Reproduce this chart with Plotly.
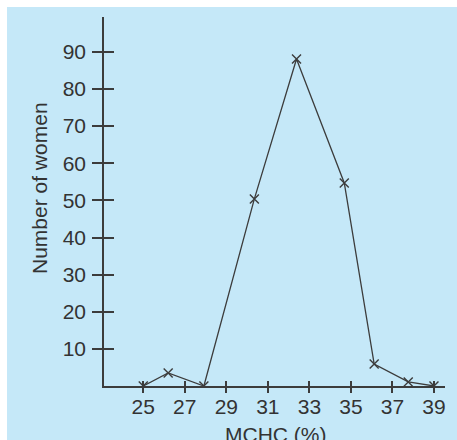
import plotly.graph_objects as go

mchc = [25, 26.2, 27.92, 30.35, 32.38, 34.68, 36.12, 37.76, 39]
women = [0, 3.5, 0, 50.4, 88.1, 54.7, 5.9, 1.1, 0]
x_ticks = [25, 27, 29, 31, 33, 35, 37, 39]
y_ticks = [10, 20, 30, 40, 50, 60, 70, 80, 90]
x_title = "MCHC (%)"
y_title = "Number of women"

W, H = 457, 440
L, R, T, B = 104, 12, 17, 54
pw, ph = W - L - R, H - T - B
xr = [23.11, 39.53]
yr = [0, 99.4]
ink = "#3c3c3c"
txt = "#333333"
font = "Liberation Sans, Arial, sans-serif"

fig = go.Figure()
fig.add_trace(go.Scatter(
    x=mchc, y=women, mode="lines+markers",
    line=dict(color=ink, width=1.3),
    marker=dict(symbol="x-thin", size=9, line=dict(color=ink, width=1.4)),
    showlegend=False, hoverinfo="skip"))
fig.add_trace(go.Scatter(x=[xr[0]], y=[yr[0]], xaxis="x2", yaxis="y2",
                         mode="markers", marker=dict(opacity=0),
                         showlegend=False, hoverinfo="skip"))

common = dict(showgrid=False, zeroline=False, fixedrange=True)
fig.update_layout(
    width=W, height=H,
    margin=dict(l=L, r=R, t=T, b=B, autoexpand=False),
    paper_bgcolor="white", plot_bgcolor="rgba(0,0,0,0)",
    font=dict(family=font, color=txt, size=21),
    xaxis=dict(range=xr, tickvals=x_ticks, ticks="outside", ticklen=5,
               tickwidth=1.5, tickcolor=ink, showline=True, linecolor=ink,
               linewidth=1.5, tickfont=dict(size=21, color=txt),
               ticklabelstandoff=-4, automargin=False, **common),
    yaxis=dict(range=yr, tickvals=y_ticks, ticks="outside", ticklen=10,
               tickwidth=1.5, tickcolor=ink, showline=True, linecolor=ink,
               linewidth=1.5, tickfont=dict(size=21, color=txt),
               ticklabelstandoff=2, automargin=False, **common),
    xaxis2=dict(range=xr, tickvals=x_ticks, ticks="inside", ticklen=5,
                tickwidth=1.5, tickcolor=ink, showticklabels=False,
                overlaying="x", anchor="y2", side="bottom", **common),
    yaxis2=dict(range=yr, tickvals=y_ticks, ticks="inside", ticklen=10,
                tickwidth=1.5, tickcolor=ink, showticklabels=False,
                overlaying="y", anchor="x2", side="left", **common),
    shapes=[dict(type="rect", xref="paper", yref="paper",
                 x0=(7 - L) / pw, x1=(W + 5 - L) / pw,
                 y0=-(B + 5) / ph, y1=1 + (T - 7) / ph,
                 fillcolor="#c5e8f8", line=dict(width=0), layer="below")],
    annotations=[
        dict(text=y_title, textangle=-90, xref="paper", yref="paper",
             x=(39 - L) / pw, y=1 - (188 - T) / ph,
             showarrow=False, font=dict(size=21, color=txt),
             xanchor="center", yanchor="middle"),
        dict(text=x_title, xref="paper", yref="paper",
             x=(275 - L) / pw, y=-(421 - (H - B)) / ph,
             showarrow=False, font=dict(size=21, color=txt),
             xanchor="center", yanchor="top"),
    ],
)
fig.write_html("out.html", config={"displayModeBar": False},
               post_script="document.body.style.margin='0';document.body.style.overflow='hidden';")
